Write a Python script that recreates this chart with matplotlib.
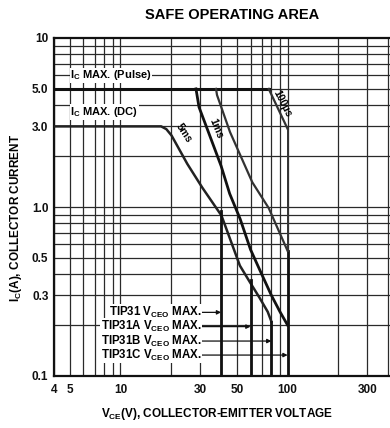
import matplotlib
matplotlib.use('Agg')
import matplotlib.pyplot as plt
from matplotlib.ticker import FixedLocator, NullFormatter

plt.rcParams['font.family'] = ['Liberation Sans', 'DejaVu Sans']
plt.rcParams['font.weight'] = 'bold'
plt.rcParams['mathtext.fontset'] = 'custom'
plt.rcParams['mathtext.rm'] = 'Liberation Sans:bold'
plt.rcParams['mathtext.it'] = 'Liberation Sans:bold'
plt.rcParams['mathtext.bf'] = 'Liberation Sans:bold'
plt.rcParams['mathtext.default'] = 'rm'

# ── Data ────────────────────────────────────────────────
x_ticks = [4, 5, 10, 30, 50, 100, 300]
x_tick_labels = ['4', '5', '10', '30', '50', '100', '300']
y_ticks = [0.1, 0.3, 0.5, 1.0, 3.0, 5.0, 10]
y_tick_labels = ['0.1', '0.3', '0.5', '1.0', '3.0', '5.0', '10']

# Ic max (pulse) line
v_pulse = [4, 77]
i_pulse = [5.0, 5.0]

# DC limit with the "5ms" label
v_5ms = [4, 15.6, 17.5, 18.8, 20.2, 25.1, 30.9, 40.2, 51.8, 59.4, 68, 76, 80]
i_5ms = [3.0, 3.0, 3.0, 2.89, 2.65, 1.80, 1.30, 0.89, 0.45, 0.36, 0.29, 0.24, 0.21]

# 1ms
v_1ms = [28.3, 29.5, 33.7, 40, 45, 52, 60, 70, 80, 90, 100]
i_1ms = [5.0, 3.9, 2.75, 1.75, 1.2, 0.85, 0.56, 0.40, 0.30, 0.24, 0.20]

# second pulse curve (right of the 1ms label)
v_mid = [37.3, 37.8, 45.2, 61.5, 77.1, 100]
i_mid = [5.0, 4.6, 2.78, 1.40, 0.985, 0.55]

# 100us
v_100us = [77.1, 100]
i_100us = [5.0, 2.9]

# Vceo max lines
vceo = [40, 60, 80, 100]
vceo_top = [0.95, 0.37, 0.21, 0.55]
vceo_names = ['TIP31', 'TIP31A', 'TIP31B', 'TIP31C']
vceo_arrow_i = [0.238, 0.196, 0.161, 0.133]

# ── Figure ──────────────────────────────────────────────
fig = plt.figure(figsize=(3.9, 4.28), dpi=100)
ax = fig.add_axes([54 / 390, 1 - 376 / 428, (390 - 54) / 390, (376 - 38) / 428])

ax.set_xscale('log')
ax.set_yscale('log')
ax.set_xlim(4, 410)
ax.set_ylim(0.1, 10)

# grid
xgrid = [4, 5, 6, 7, 8, 9, 10, 20, 30, 40, 50, 60, 70, 80, 90, 100, 200, 300, 400]
ygrid = [0.2, 0.3, 0.4, 0.5, 0.6, 0.7, 0.8, 0.9, 1, 2, 3, 4, 5, 6, 7, 8, 9]
for v in xgrid:
    ax.axvline(v, color='#2a2a2a', lw=0.9, zorder=1)
for i in ygrid:
    ax.axhline(i, color='#2a2a2a', lw=0.9, zorder=1)

ax.xaxis.set_major_locator(FixedLocator(x_ticks))
ax.set_xticklabels(x_tick_labels)
ax.xaxis.set_minor_locator(FixedLocator([]))
ax.xaxis.set_minor_formatter(NullFormatter())
ax.yaxis.set_major_locator(FixedLocator(y_ticks))
ax.set_yticklabels(y_tick_labels)
ax.yaxis.set_minor_locator(FixedLocator([]))
ax.yaxis.set_minor_formatter(NullFormatter())
ax.tick_params(length=0, labelsize=8.5, pad=4, colors='#111111')
ax.tick_params(axis='x', pad=6)

for s in ['left', 'top', 'bottom']:
    ax.spines[s].set_linewidth(1.6)
    ax.spines[s].set_color('#111111')
ax.spines['right'].set_visible(False)

# ── Curves ──────────────────────────────────────────────
ax.plot(v_pulse, i_pulse, color='#111111', lw=2.2, zorder=3)
ax.plot(v_5ms, i_5ms, color='#222222', lw=1.8, zorder=3)
ax.plot(v_1ms, i_1ms, color='#111111', lw=2.0, zorder=3)
ax.plot(v_mid, i_mid, color='#333333', lw=1.6, zorder=3)
ax.plot(v_100us, i_100us, color='#333333', lw=1.6, zorder=3)
for v, top in zip(vceo, vceo_top):
    ax.plot([v, v], [0.1, top], color='#111111', lw=2.0, zorder=3)
ax.plot([100, 100], [0.55, 2.9], color='#333333', lw=1.4, zorder=3)

# ── Labels ──────────────────────────────────────────────
box = dict(facecolor='white', edgecolor='none', pad=0.5)
ax.text(5.0, 6.0, r'I$_C$ MAX. (Pulse)', fontsize=8, va='center', ha='left',
        zorder=4, bbox=box)
ax.text(5.0, 3.65, r'I$_C$ MAX. (DC)', fontsize=8, va='center', ha='left',
        zorder=4, bbox=box)
ax.text(24.0, 2.75, '5ms', fontsize=7.5, rotation=-57, ha='center', va='center',
        zorder=4)
ax.text(37.5, 2.9, '1ms', fontsize=7.5, rotation=-68, ha='center', va='center',
        zorder=4)
ax.text(93, 4.1, '100\u00b5s', fontsize=7.5, rotation=-63, ha='center', va='center',
        zorder=4)

for name, v, i in zip(vceo_names, vceo, vceo_arrow_i):
    ax.annotate(name + r' V$_{CEO}$ MAX.', xy=(v, i), xytext=(30.5, i),
                fontsize=8.3, ha='right', va='center', zorder=4, bbox=box,
                arrowprops=dict(arrowstyle='-|>', color='#111111', lw=0.9,
                                mutation_scale=6, shrinkA=0, shrinkB=0))

fig.text(0.595, 0.966, 'SAFE OPERATING AREA', fontsize=10.5, ha='center', va='center')
fig.text(0.041, 0.49, r'I$_C$(A), COLLECTOR CURRENT', fontsize=8.5, rotation=90,
         ha='center', va='center')
fig.text(0.556, 0.033, r'V$_{CE}$(V), COLLECTOR-EMITTER VOLTAGE', fontsize=8.5,
         ha='center', va='center')

fig.savefig('out.png', dpi=100)
